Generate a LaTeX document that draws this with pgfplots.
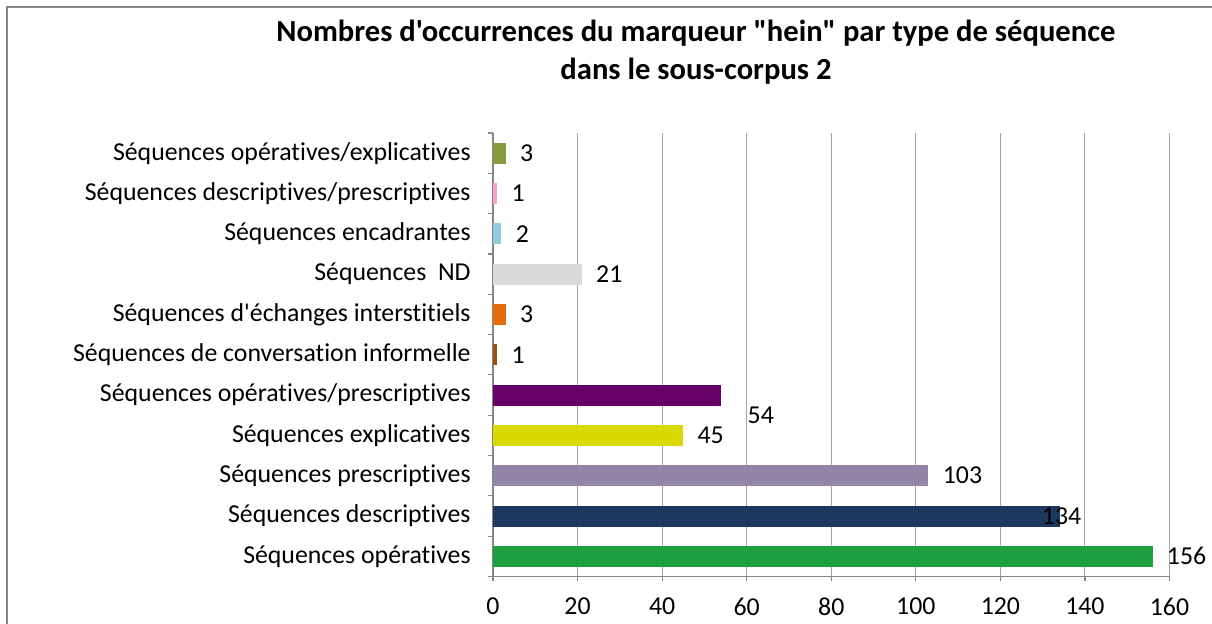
\documentclass[border=0pt]{standalone}
\usepackage{pgfplots}
\pgfplotsset{compat=1.18}
\usepackage{fontspec}
\setmainfont{Carlito}
\newfontfamily\calibri{Carlito}[Ligatures=NoCommon]
\definecolor{cOpe}{HTML}{1E9F42}
\definecolor{cDesc}{HTML}{1B385E}
\definecolor{cPres}{HTML}{9285A6}
\definecolor{cExpl}{HTML}{D8DA00}
\definecolor{cOpePres}{HTML}{660066}
\definecolor{cConv}{HTML}{A0510F}
\definecolor{cEch}{HTML}{E46C0A}
\definecolor{cND}{HTML}{D9D9D9}
\definecolor{cEnc}{HTML}{93CDDD}
\definecolor{cDescPres}{HTML}{FF9FD0}
\definecolor{cOpeExpl}{HTML}{869A3E}
\definecolor{frameg}{HTML}{868686}
\definecolor{gridg}{HTML}{A6A6A6}
\begin{document}
\begin{tikzpicture}[x=1pt,y=1pt]
\useasboundingbox (0,0) rectangle (606,312);
\draw[line width=1.1pt, color=frameg] (3.5,-5) -- (3.5,308.5) -- (612,308.5);
\node[font=\calibri\fontsize{15.3}{18}\selectfont\bfseries] at (348,295.5) {Nombres d'occurrences du marqueur "hein" par type de séquence};
\node[font=\calibri\fontsize{15.3}{18}\selectfont\bfseries] at (348,276.5) {dans le sous-corpus 2};
\begin{axis}[
  at={(246.5pt,23.75pt)}, anchor=south west,
  scale only axis, width=338.25pt, height=221.75pt,
  xbar, bar width=10.5pt, bar shift=0pt,
  xmin=0, xmax=160, ymin=-0.5, ymax=10.5,
  xtick={0,20,...,160},
  ytick={0,...,10},
  yticklabels={S\'equences op\'eratives, S\'equences descriptives, S\'equences prescriptives, S\'equences explicatives, S\'equences op\'eratives/prescriptives, S\'equences de conversation informelle, S\'equences d'\'echanges interstitiels, S\'equences\ \ ND, S\'equences encadrantes, S\'equences descriptives/prescriptives, S\'equences op\'eratives/explicatives},
  minor ytick={-0.5,0.5,...,10.5},
  axis x line*=bottom, axis y line*=left,
  axis line style={color=frameg, line width=0.6pt},
  xmajorgrids, major grid style={color=gridg, line width=0.5pt},
  tick align=outside,
  major tick length=2.5pt, minor tick length=2.5pt,
  every major y tick/.style={draw=none},
  every tick/.style={color=frameg, line width=0.6pt},
  every minor y tick/.style={color=frameg, line width=0.6pt},
  tick label style={font=\calibri\fontsize{12.9}{15}\selectfont, inner sep=0pt},
  yticklabel style={anchor=east, xshift=-8.5pt},
  xticklabel style={anchor=north, yshift=-8pt},
  /pgf/number format/assume math mode=true,
  point meta=x,
  nodes near coords,
  every node near coord/.append style={anchor=west, inner sep=0pt, xshift=7pt, font=\calibri\fontsize{12.9}{15}\selectfont, color=black},
]
\addplot[fill=cOpe, draw=none] coordinates {(156,0)};
\addplot[fill=cDesc, draw=none, every node near coord/.append style={xshift=-16pt}] coordinates {(134,1)};
\addplot[fill=cPres, draw=none] coordinates {(103,2)};
\addplot[fill=cExpl, draw=none] coordinates {(45,3)};
\addplot[fill=cOpePres, draw=none, every node near coord/.append style={xshift=6pt, yshift=-10pt}] coordinates {(54,4)};
\addplot[fill=cConv, draw=none] coordinates {(1,5)};
\addplot[fill=cEch, draw=none] coordinates {(3,6)};
\addplot[fill=cND, draw=none] coordinates {(21,7)};
\addplot[fill=cEnc, draw=none] coordinates {(2,8)};
\addplot[fill=cDescPres, draw=none] coordinates {(1,9)};
\addplot[fill=cOpeExpl, draw=none] coordinates {(3,10)};
\end{axis}
\end{tikzpicture}
\end{document}
